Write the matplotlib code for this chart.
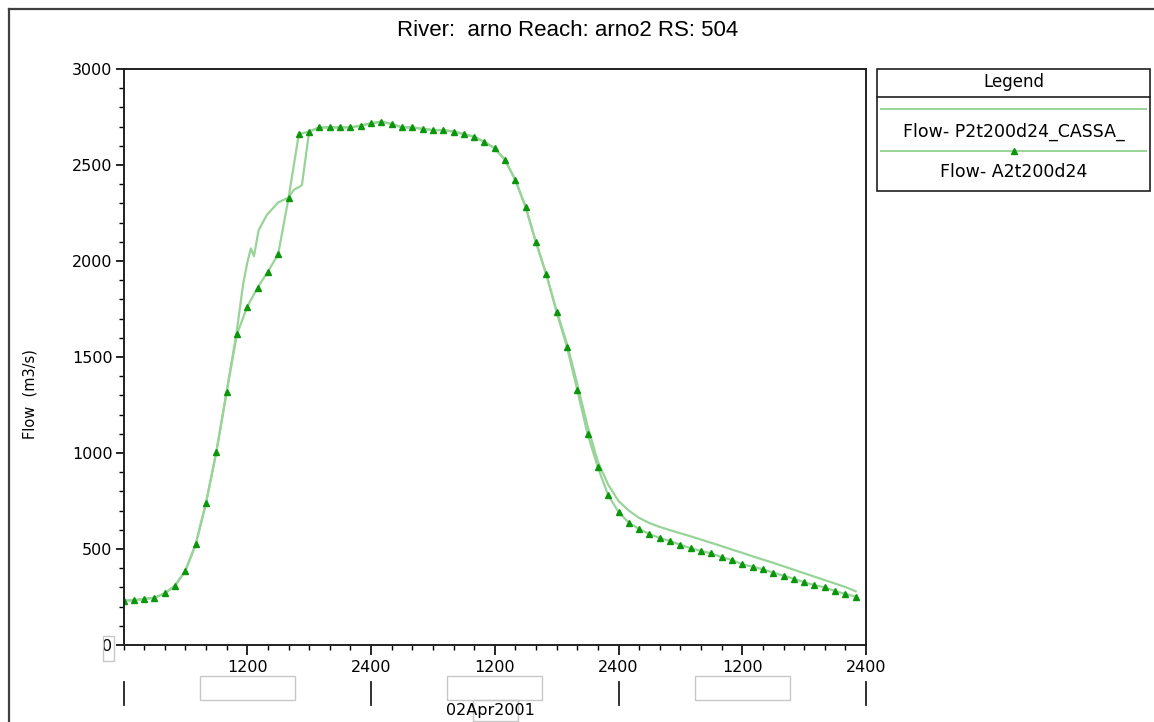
import matplotlib
matplotlib.use("Agg")
import matplotlib.pyplot as plt
from matplotlib.patches import Rectangle
from matplotlib.lines import Line2D
import numpy as np

# hours from the start of 01Apr2001 0000
hours_a = np.arange(0, 72)
flow_a = [231, 233, 240, 246, 269, 309, 387, 524, 740, 1005,
          1318, 1618, 1762, 1861, 1944, 2036, 2326, 2661, 2674, 2696,
          2696, 2696, 2696, 2705, 2717, 2726, 2714, 2696, 2696, 2688,
          2682, 2682, 2674, 2661, 2647, 2620, 2587, 2526, 2422, 2280,
          2097, 1930, 1733, 1553, 1328, 1099, 925, 780, 693, 637,
          604, 578, 557, 542, 522, 504, 490, 477, 457, 443,
          420, 408, 394, 377, 361, 345, 327, 312, 300, 281,
          266, 252]

hours_p = [0, 1, 2, 3, 4, 5, 6, 7, 8, 9, 10, 11, 11.6, 12.0, 12.35, 12.65,
           13.1, 13.9, 15.0, 16.0, 16.5, 17.0, 17.3, 18.0, 19, 20, 21, 22, 23,
           24, 25, 26, 27, 28, 29, 30, 31, 32, 33, 34, 35, 36, 37, 38, 39,
           40, 41, 42, 43, 44, 45, 46, 47, 48, 49, 50, 51, 52, 53, 54, 55,
           56, 57, 58, 59, 60, 61, 62, 63, 64, 65, 66, 67, 68, 69, 70, 71]
flow_p = [231, 233, 240, 246, 269, 309, 387, 524, 740, 1005, 1318, 1640,
          1880, 1990, 2066, 2025, 2160, 2240, 2305, 2330, 2370, 2385, 2395,
          2674, 2696, 2696, 2696, 2696, 2705, 2717, 2726, 2714, 2696, 2696,
          2688, 2682, 2682, 2674, 2661, 2647, 2620, 2587, 2526, 2422, 2280,
          2097, 1930, 1740, 1570, 1360, 1140, 955, 835, 750, 700, 662,
          635, 615, 598, 582, 566, 549, 532, 515, 497, 480, 462, 445, 428,
          410, 392, 374, 356, 338, 320, 302, 280]

name_p = "Flow- P2t200d24_CASSA_"
name_a = "Flow- A2t200d24"
title = "River:  arno Reach: arno2 RS: 504"
x_labels = ["1200", "2400", "1200", "2400", "1200", "2400"]

line_col = "#98d498"
mark_col = "#0a960a"
W, H = 1154, 722
ui_font = "DejaVu Sans"

fig = plt.figure(figsize=(11.54, 7.22), dpi=100)
ax = fig.add_axes([123.5 / W, 1 - 645 / H, (866 - 123.5) / W, (645 - 69) / H])

ax.plot(hours_p, flow_p, color=line_col, lw=1.6)
ax.plot(hours_a, flow_a, color=line_col, lw=1.6, marker="^", ms=4.5,
        mfc=mark_col, mec=mark_col)

ax.set_xlim(0, 72)
ax.set_ylim(0, 3000)
ax.set_yticks(np.arange(0, 3001, 500))
ax.set_yticks(np.arange(0, 3001, 100), minor=True)
ax.set_xticks(np.arange(12, 73, 12))
ax.set_xticks(np.arange(0, 73, 2), minor=True)
ax.set_xticklabels(x_labels)
for s in ax.spines.values():
    s.set_linewidth(1.4)
    s.set_color("#202020")
ax.tick_params(which="major", length=6, width=1.2, labelsize=11.5, pad=2)
ax.tick_params(which="minor", length=3.5, width=1.0)
ax.tick_params(axis="x", which="major", length=7, pad=4)
for lab in ax.get_xticklabels() + ax.get_yticklabels():
    lab.set_family(ui_font)

# day separators and day label boxes under the time axis
xt = ax.get_xaxis_transform()
for d in [0, 24, 48, 72]:
    ax.plot([d, d], [-0.064, -0.104], color="#202020", lw=1.3,
            transform=xt, clip_on=False)
for c in [12, 36, 60]:
    ax.add_patch(Rectangle((c - 4.6, -0.096), 9.2, 0.0415, transform=xt,
                           fill=False, ec="#c8c8c8", lw=1.0, clip_on=False))
fig.text(490 / W, 1 - 711 / H, "02Apr2001", ha="center", va="center",
         fontsize=11.5, family=ui_font)
fig.add_artist(Rectangle((473 / W, 1 - 721 / H), 45 / W, 21 / H,
                         fill=False, ec="#c8c8c8", lw=1.0))
fig.add_artist(Rectangle((103 / W, 1 - 661 / H), 11 / W, 25 / H,
                         fill=False, ec="#c8c8c8", lw=1.0))

fig.text(30 / W, 1 - 394 / H, "Flow  (m3/s)", rotation=90, ha="center",
         va="center", fontsize=10.5, family=ui_font)

fig.text(568 / W, 1 - 31 / H, title, ha="center", va="center", fontsize=16,
         family=["Liberation Sans Narrow", "Liberation Sans"])

# outer frame
fig.add_artist(Line2D([9 / W, 9 / W], [0, 1 - 9 / H], color="#404040", lw=1.6))
fig.add_artist(Line2D([9 / W, 1], [1 - 9 / H, 1 - 9 / H], color="#404040", lw=1.6))

# legend box
lx0, lx1, ly0, ly1 = 877, 1150, 69, 191
fig.add_artist(Rectangle((lx0 / W, 1 - ly1 / H), (lx1 - lx0) / W, (ly1 - ly0) / H,
                         fill=False, ec="#202020", lw=1.2))
fig.add_artist(Line2D([lx0 / W, lx1 / W], [1 - 97 / H, 1 - 97 / H],
                      color="#202020", lw=1.2))
lc = (lx0 + lx1) / 2
fig.text(lc / W, 1 - 82 / H, "Legend", ha="center", va="center", fontsize=12,
         family=ui_font)
fig.add_artist(Line2D([881 / W, 1146 / W], [1 - 109 / H, 1 - 109 / H],
                      color=line_col, lw=1.4))
fig.text(lc / W, 1 - 132 / H, name_p, ha="center", va="center", fontsize=12.5,
         family=ui_font)
fig.add_artist(Line2D([881 / W, 1146 / W], [1 - 151 / H, 1 - 151 / H],
                      color=line_col, lw=1.4))
fig.add_artist(Line2D([lc / W], [1 - 151 / H], marker="^", ms=4.5,
                      mfc=mark_col, mec=mark_col, ls="none"))
fig.text(lc / W, 1 - 172 / H, name_a, ha="center", va="center", fontsize=12.5,
         family=ui_font)

fig.savefig("out.png", dpi=100)
